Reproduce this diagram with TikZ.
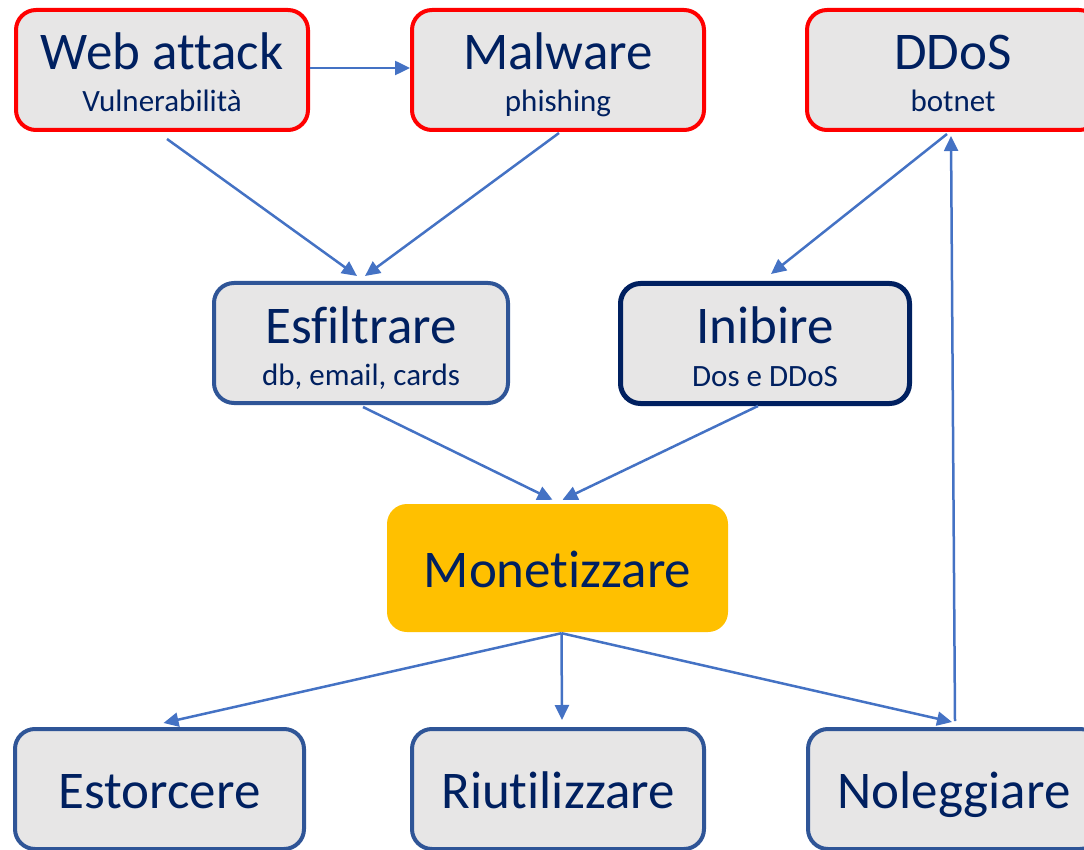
\documentclass[tikz,border=0pt]{standalone}
\usepackage{fontspec}
\setmainfont{Carlito}[Ligatures=NoCommon]
\usepackage{tikz}
\usetikzlibrary{arrows.meta}

\definecolor{boxgrey}{HTML}{E7E6E6}
\definecolor{attackred}{HTML}{FF0000}
\definecolor{boxblue}{HTML}{2F5597}
\definecolor{navy}{HTML}{002060}
\definecolor{moneyorange}{HTML}{FFC000}
\definecolor{arrowblue}{HTML}{4472C4}

\tikzset{
  box/.style={draw, fill=boxgrey, rounded corners=20pt, minimum width=292pt, minimum height=120pt, inner sep=0pt},
  redbox/.style={box, draw=attackred, line width=4pt},
  bluebox/.style={box, draw=boxblue, line width=4pt},
  navybox/.style={box, draw=navy, line width=5pt},
  bigtxt/.style={anchor=base, inner sep=0pt, text=navy, font=\fontsize{53}{60}\selectfont},
  smalltxt/.style={anchor=base, inner sep=0pt, text=navy, font=\fontsize{31}{36}\selectfont},
  arr/.style={draw=arrowblue, line width=2.5pt, -{Triangle[length=15pt,width=14pt]}}
}

\begin{document}
\begin{tikzpicture}[x=1pt, y=-1pt]
\path[use as bounding box, clip] (0,0) rectangle (1084,850);

% attacchi
\node[redbox] (web) at (162,70) {};
\node[bigtxt] (webT) at (web.center) {Web attack};
\node[smalltxt] (webS) at ([yshift=-42pt]web.center) {Vulnerabilità};
\node[redbox] (mal) at (558,70) {};
\node[bigtxt] (malT) at (mal.center) {Malware};
\node[smalltxt] (malS) at ([yshift=-42pt]mal.center) {phishing};
\node[redbox] (ddos) at (953,70) {};
\node[bigtxt] (ddosT) at (ddos.center) {DDoS};
\node[smalltxt] (ddosS) at ([yshift=-42pt]ddos.center) {botnet};

% obiettivi
\node[bluebox, minimum width=294pt] (esf) at (361,343) {};
\node[bigtxt] (esfT) at (esf.center) {Esfiltrare};
\node[smalltxt] (esfS) at ([yshift=-42pt]esf.center) {db, email, cards};
\node[navybox, minimum width=289pt] (inib) at (765,343.5) {};
\node[bigtxt] (inibT) at (inib.center) {Inibire};
\node[smalltxt] (inibS) at ([yshift=-43pt]inib.center) {Dos e DDoS};

\node[fill=moneyorange, rounded corners=20pt, minimum width=341pt, minimum height=128pt] (mon) at (557.5,568) {};
\node[bigtxt] (monT) at ([yshift=-19pt]mon.center) {Monetizzare};

% uscite
\node[bluebox, minimum width=289pt] (est) at (159.5,789) {};
\node[bigtxt] (estT) at ([yshift=-19pt]est.center) {Estorcere};
\node[bluebox] (riu) at (558,789) {};
\node[bigtxt] (riuT) at ([yshift=-19pt]riu.center) {Riutilizzare};
\node[bluebox] (nol) at (954,789) {};
\node[bigtxt] (nolT) at ([yshift=-19pt]nol.center) {Noleggiare};

\coordinate (split) at ([xshift=4pt,yshift=-1pt]mon.south);

\draw[arr] ([yshift=2pt]web.east) -- ([yshift=2pt]mal.west);
\draw[arr] ([xshift=5pt,yshift=-7pt]web.south) -- ([xshift=-4pt,yshift=5pt]esf.north);
\draw[arr] ([xshift=1pt,yshift=-1pt]mal.south) -- ([xshift=4pt,yshift=5pt]esf.north);
\draw[arr] ([xshift=-6pt,yshift=-2pt]ddos.south) -- ([xshift=6pt,yshift=7pt]inib.north);
\draw[arr] ([xshift=2pt,yshift=-2pt]esf.south) -- ([xshift=-5pt,yshift=4pt]mon.north);
\draw[arr] ([xshift=-7pt]inib.south) -- ([xshift=5pt,yshift=4pt]mon.north);
\draw[arr] (split) -- ([xshift=4pt,yshift=4pt]est.north);
\draw[arr] (split) -- ([xshift=4pt,yshift=7pt]riu.north);
\draw[arr] (split) -- ([xshift=-2pt,yshift=5pt]nol.north);
\draw[arr] ([xshift=1pt,yshift=6pt]nol.north) -- ([xshift=-2pt,yshift=-4pt]ddos.south);
\end{tikzpicture}
\end{document}
